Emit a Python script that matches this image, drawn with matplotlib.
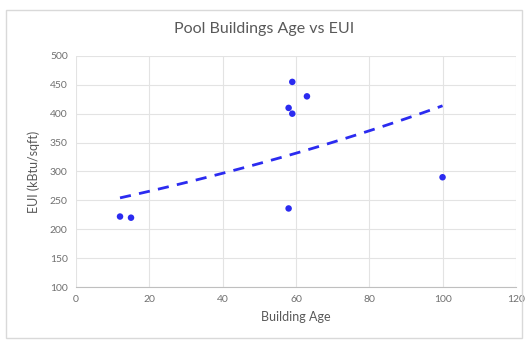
import matplotlib
matplotlib.use("Agg")
import matplotlib.pyplot as plt
import numpy as np
from matplotlib.patches import Rectangle

# building age (years) vs energy use intensity (kBtu/sqft)
building_age = [12, 15, 58, 59, 59, 63, 58, 100]
eui = [222, 220, 410, 455, 400, 430, 236, 290]

x_ticks = [0, 20, 40, 60, 80, 100, 120]
y_ticks = [100, 150, 200, 250, 300, 350, 400, 450, 500]

TEXT = '#595959'
BLUE = '#2B2BF0'


def exp_trend(x, y):
    """Exponential trendline fitted like Excel: ln(y) linear in x."""
    b, ln_a = np.polyfit(x, np.log(y), 1)
    xs = np.linspace(min(x), max(x), 100)
    return xs, np.exp(ln_a) * np.exp(b * xs)


def main() -> None:
    plt.rcParams['font.family'] = ['Lato', 'DejaVu Sans']
    fig = plt.figure(figsize=(5.28, 3.45), dpi=100)
    fig.patches.append(Rectangle((0.012, 0.02), 0.976, 0.95,
                                 transform=fig.transFigure, fill=False,
                                 edgecolor='#D9D9D9', linewidth=1))
    ax = fig.add_axes([0.144, 0.168, 0.833, 0.67])

    xs, ys = exp_trend(building_age, eui)
    ax.plot(xs, ys, color=BLUE, linestyle=(0, (4, 3)), linewidth=2, zorder=3)
    ax.scatter(building_age, eui, s=22, color=BLUE, zorder=4,
               edgecolors='none')

    ax.set_xlim(0, 120)
    ax.set_ylim(100, 500)
    ax.set_xticks(x_ticks)
    ax.set_yticks(y_ticks)
    ax.grid(True, color='#E3E3E3', linewidth=0.8)
    ax.set_axisbelow(True)
    for side in ['top', 'right', 'left']:
        ax.spines[side].set_visible(False)
    ax.spines['bottom'].set_color('#BFBFBF')
    ax.tick_params(length=0, labelsize=7.5, colors='#707070', pad=6)

    ax.set_xlabel('Building Age', fontsize=9, color=TEXT, labelpad=5)
    ax.set_ylabel('EUI (kBtu/sqft)', fontsize=9, color=TEXT, labelpad=7)
    fig.text(0.5, 0.917, 'Pool Buildings Age vs EUI', ha='center',
             va='center', fontsize=11.5, color=TEXT)

    fig.savefig('out.png', dpi=100)


if __name__ == "__main__":
    main()
